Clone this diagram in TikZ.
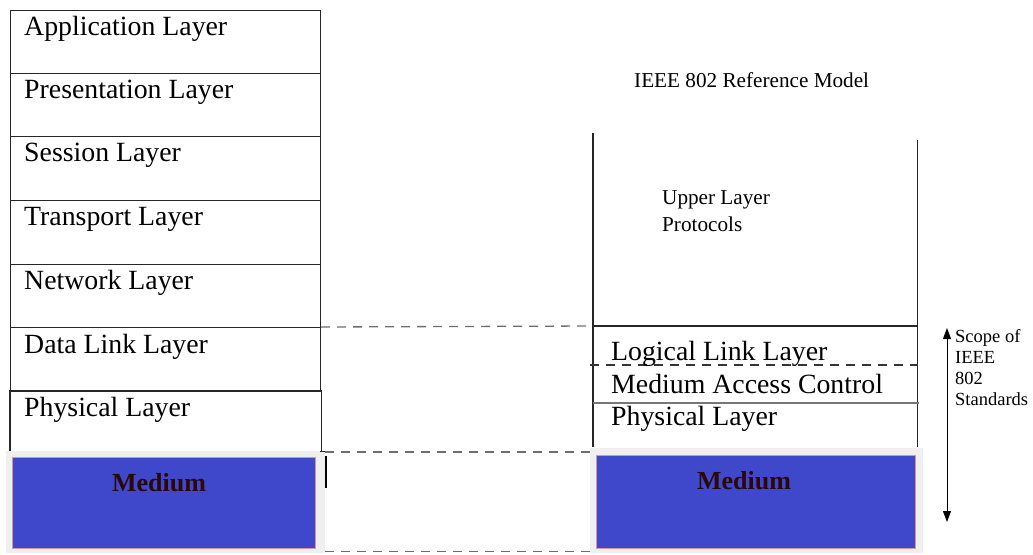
\documentclass[tikz,border=0pt]{standalone}
\usepackage{fontspec}
\setmainfont{Liberation Serif}
\usetikzlibrary{arrows.meta}

\definecolor{mediumblue}{HTML}{3F47CB}
\definecolor{mediumedge}{HTML}{D4979A}
\definecolor{framegray}{HTML}{EFEFEF}
\definecolor{dashgray}{HTML}{6E6E6E}
\definecolor{medtext}{HTML}{2A0808}
\definecolor{rulegray}{HTML}{777777}

\begin{document}
\begin{tikzpicture}[x=1pt,y=-1pt,
  stackline/.style={draw=black!85,line width=1.1pt},
  layerbox/.style={stackline,rectangle,inner sep=0pt,minimum width=310pt,anchor=north west},
  layertext/.style={anchor=base west,inner sep=0pt,font=\fontsize{27.8}{30}\selectfont},
  smalltext/.style={anchor=base west,inner sep=0pt,font=\fontsize{21.2}{27}\selectfont},
  scopetext/.style={anchor=north west,inner sep=0pt,align=left,font=\fontsize{18.5}{21}\selectfont},
  frame/.style={rectangle,fill=framegray,draw=none,inner sep=0pt,anchor=north west},
  bluebox/.style={rectangle,fill=mediumblue,draw=mediumedge,line width=0.8pt,inner sep=0pt,anchor=north west},
  medlabel/.style={anchor=base,inner sep=0pt,text=medtext,font=\fontsize{26}{28}\selectfont\bfseries},
  linkdash/.style={draw=dashgray,line width=1.3pt,dash pattern=on 9pt off 7pt},
  scopearrow/.style={draw=black,line width=1pt,{Triangle[length=11pt,width=8pt]}-{Triangle[length=11pt,width=8pt]}}
]
\useasboundingbox (0,0) rectangle (1033,554);

% ---- OSI stack ----
\node[layerbox,minimum height=63pt] (app)  at (10,10)  {};
\node[layerbox,minimum height=63pt] (pres) at (10,73)  {};
\node[layerbox,minimum height=64pt] (sess) at (10,136) {};
\node[layerbox,minimum height=64pt] (tran) at (10,200) {};
\node[layerbox,minimum height=63pt] (netw) at (10,264) {};
\node[layerbox,minimum height=64pt] (dll)  at (10,327) {};
\node[layerbox,draw=none,minimum height=59pt] (phy) at (10,391) {};
\draw[stackline] (phy.south west) -- (phy.north west) -- (phy.north east) -- (phy.south east);

\node[layertext] at ([shift={(14,25)}]app.north west)  {Application Layer};
\node[layertext] at ([shift={(14,25)}]pres.north west) {Presentation Layer};
\node[layertext] at ([shift={(14,25)}]sess.north west) {Session Layer};
\node[layertext] at ([shift={(14,25)}]tran.north west) {Transport Layer};
\node[layertext] at ([shift={(14,25)}]netw.north west) {Network Layer};
\node[layertext] at ([shift={(14,26)}]dll.north west)  {Data Link Layer};
\node[layertext] at ([shift={(14,25)}]phy.north west)  {Physical Layer};

% ---- left medium ----
\node[frame,minimum width=319pt,minimum height=102pt] (medL) at (6,451) {};
\node[bluebox,minimum width=303pt,minimum height=91pt] (blueL) at (12,457) {};
\node[medlabel] at (159,491) {Medium};
\draw[black,line width=2.6pt] (326,456) -- (326,488);
\draw[black!85,line width=1pt] (320,451) -- (333,451);

% ---- IEEE 802 column ----
\node[smalltext] (title) at (634,87) {IEEE 802 Reference Model};
\node[rectangle,inner sep=0pt,anchor=north west,minimum width=324pt,minimum height=193pt] (upper) at (593,133) {};
\node[rectangle,inner sep=0pt,anchor=north west,minimum width=324pt,minimum height=121pt] (scope) at (593,326) {};
\draw[stackline] (upper.north west) -- (scope.south west);
\draw[stackline] ([yshift=-7pt]upper.north east) -- (scope.south east);
\draw[stackline] (scope.north west) -- (scope.north east);
\draw[draw=black!80,line width=1.1pt,dash pattern=on 9pt off 7pt] ([shift={(-3,39)}]scope.north west) -- ([shift={(1,39)}]scope.north east);
\draw[draw=rulegray,line width=1.3pt] ([shift={(0,77)}]scope.north west) -- ([shift={(2,77)}]scope.north east);

\node[smalltext] at (662,204) {Upper Layer};
\node[smalltext] at (662,231) {Protocols};

\node[layertext] at (611,360) {Logical Link Layer};
\node[layertext] at (611,393) {Medium Access Control};
\node[layertext] at (611,425) {Physical Layer};

% ---- right medium ----
\node[frame,minimum width=333pt,minimum height=105pt] (medR) at (590,448) {};
\node[bluebox,minimum width=319pt,minimum height=93pt] (blueR) at (596,455) {};
\node[medlabel] at (744,489) {Medium};

% ---- correspondence between the two models ----
\draw[linkdash] (dll.north east) -- (scope.north west);
\draw[linkdash] ([yshift=-1pt]medL.north east) -- ([yshift=-1pt]medL.north east -| medR.west);
\draw[linkdash] ([yshift=2pt]medL.south east) -- ([yshift=2pt]medL.south east -| medR.west);

% ---- scope of the standards ----
\coordinate (scopetop) at (947,328);
\coordinate (scopebot) at (947,522);
\draw[scopearrow] (scopetop) -- (scopebot);
\node[scopetext] (scopelbl) at (955,329) {Scope of\\IEEE\\802\\Standards};
\end{tikzpicture}
\end{document}
